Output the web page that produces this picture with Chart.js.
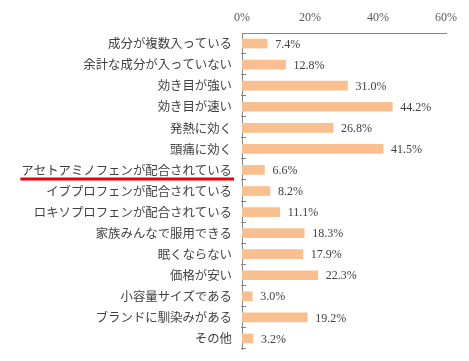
<!DOCTYPE html>
<html>
<head>
<meta charset="utf-8">
<script src="https://cdn.jsdelivr.net/npm/chart.js@4.4.0/dist/chart.umd.min.js"></script>
<style>
  html, body { margin: 0; padding: 0; background: #fff; }
  #wrap { width: 469px; height: 361px; }
</style>
</head>
<body>
<div id="wrap"><canvas id="myChart" width="469" height="361"></canvas></div>
<script>
// categories and values
const categories = [
  '成分が複数入っている',
  '余計な成分が入っていない',
  '効き目が強い',
  '効き目が速い',
  '発熱に効く',
  '頭痛に効く',
  'アセトアミノフェンが配合されている',
  'イブプロフェンが配合されている',
  'ロキソプロフェンが配合されている',
  '家族みんなで服用できる',
  '眠くならない',
  '価格が安い',
  '小容量サイズである',
  'ブランドに馴染みがある',
  'その他'
];
const values = [7.4, 12.8, 31.0, 44.2, 26.8, 41.5, 6.6, 8.2, 11.1, 18.3, 17.9, 22.3, 3.0, 19.2, 3.2];
const tickValues = [0, 20, 40, 60];
const highlightIndex = 6; // underlined in red

const labelFont = '12.4px "Noto Sans CJK JP"';

// value labels next to each bar
const valueLabels = {
  id: 'valueLabels',
  afterDatasetsDraw(chart) {
    const ctx = chart.ctx;
    const meta = chart.getDatasetMeta(0);
    ctx.save();
    ctx.font = '12px "Liberation Serif"';
    ctx.fillStyle = '#404040';
    ctx.textBaseline = 'middle';
    meta.data.forEach((bar, i) => {
      ctx.fillText(values[i].toFixed(1) + '%', bar.x + 8, bar.y + 1);
    });
    ctx.restore();
  }
};

// short ticks between categories + red underline
const extras = {
  id: 'extras',
  afterDraw(chart) {
    const ctx = chart.ctx;
    const y = chart.scales.y;
    const left = chart.chartArea.left;
    ctx.save();
    ctx.strokeStyle = '#868686';
    ctx.lineWidth = 1;
    const step = (y.bottom - y.top) / categories.length;
    for (let i = 1; i <= categories.length; i++) {
      const py = Math.round(y.top + step * i) - 0.5;
      ctx.beginPath();
      ctx.moveTo(left - 1, py);
      ctx.lineTo(left + 4, py);
      ctx.stroke();
    }
    // red line under the highlighted label
    ctx.font = labelFont;
    const w = ctx.measureText(categories[highlightIndex]).width;
    const right = left - 10;
    const cy = y.getPixelForValue(highlightIndex) + 9;
    ctx.strokeStyle = '#e8000b';
    ctx.lineWidth = 3;
    ctx.beginPath();
    ctx.moveTo(right - w - 1, cy);
    ctx.lineTo(right + 2, cy);
    ctx.stroke();
    ctx.restore();
  }
};

const ctx = document.getElementById('myChart').getContext('2d');
const myChart = new Chart(ctx, {
  type: 'bar',
  data: {
    labels: categories,
    datasets: [{
      data: values,
      backgroundColor: '#fabf8f',
      barThickness: 9
    }]
  },
  options: {
    indexAxis: 'y',
    responsive: false,
    animation: false,
    layout: { padding: { left: 0, right: 23, top: 0, bottom: 12 } },
    plugins: { legend: { display: false }, tooltip: { enabled: false } },
    scales: {
      x: {
        position: 'top',
        min: 0,
        max: 60,
        afterBuildTicks: (s) => { s.ticks = tickValues.map(v => ({ value: v })); },
        afterFit: (s) => { s.height = 33; s.paddingLeft = 0; s.paddingRight = 0; },
        grid: { display: false, drawTicks: false },
        border: { display: true, color: '#868686', width: 1 },
        ticks: {
          color: '#595959',
          font: { family: 'Liberation Serif', size: 12 },
          padding: 8,
          callback: (v) => v + '%'
        }
      },
      y: {
        afterFit: (s) => { s.width = 242; s.paddingTop = 0; s.paddingBottom = 0; },
        grid: { display: false, drawTicks: false },
        border: { display: true, color: '#868686', width: 1 },
        ticks: {
          color: '#404040',
          font: { family: 'Noto Sans CJK JP', size: 12.4 },
          padding: 10,
          autoSkip: false
        }
      }
    }
  },
  plugins: [valueLabels, extras]
});
</script>
</body>
</html>
